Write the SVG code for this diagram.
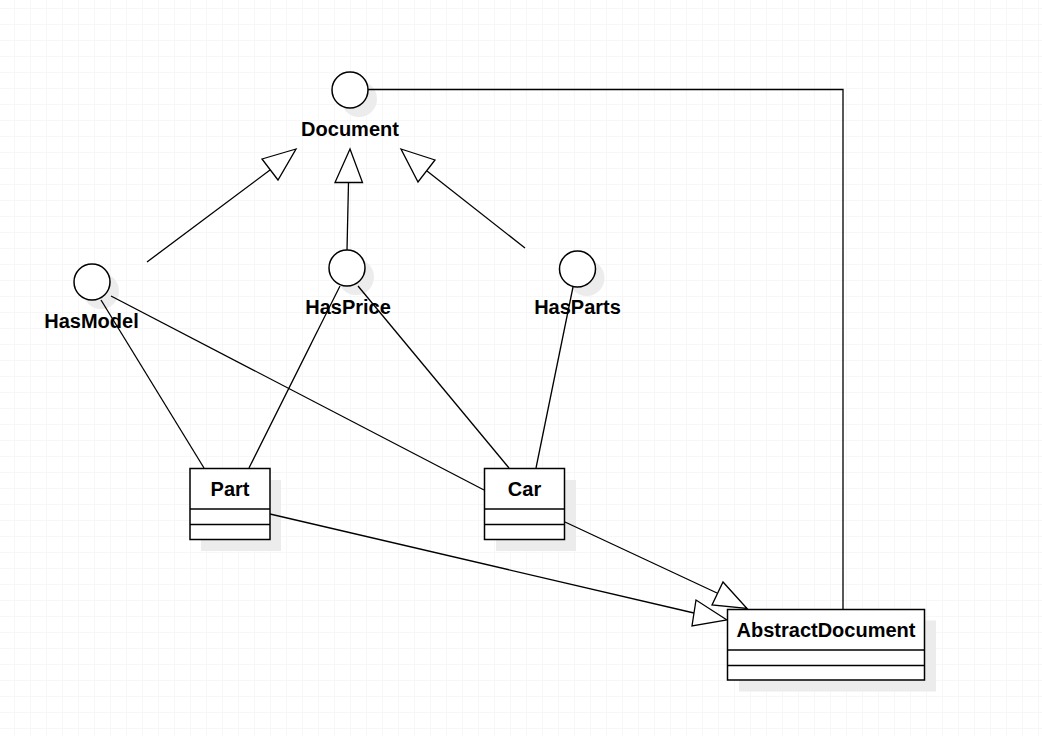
<svg xmlns="http://www.w3.org/2000/svg" width="1042" height="736" viewBox="0 0 1042 736">
  <defs>
    <pattern id="grid" x="14" y="8" width="16" height="16" patternUnits="userSpaceOnUse">
      <path d="M0 0 H16 M0 0 V16" fill="none" stroke="#efefef" stroke-width="1"/>
    </pattern>
    <style>
      .ln { fill: none; stroke: #000; stroke-width: 1.3; }
      .tri { fill: #fff; stroke: #000; stroke-width: 1.3; stroke-linejoin: miter; }
      .iface { fill: #fff; stroke: #000; stroke-width: 1.5; }
      .shadow { fill: #ececec; stroke: none; }
      .box { fill: #fff; stroke: #000; stroke-width: 1.5; }
      .lbl { font-family: "Liberation Sans", Arial, sans-serif; font-weight: bold; font-size: 20px; fill: #000; text-anchor: middle; }
    </style>
  </defs>

  <rect width="1042" height="736" fill="#fff"/>
  <rect width="1042" height="736" fill="url(#grid)"/>

  <!-- drop shadows sit beneath everything -->
  <g id="shadows">
    <circle class="shadow" cx="359" cy="99" r="18"/>
    <circle class="shadow" cx="101" cy="291" r="18"/>
    <circle class="shadow" cx="356" cy="277" r="18"/>
    <circle class="shadow" cx="586.5" cy="278" r="18"/>
    <rect class="shadow" x="201" y="480" width="80" height="71"/>
    <rect class="shadow" x="496" y="480" width="80" height="71"/>
    <rect class="shadow" x="739" y="620.5" width="197" height="71"/>
  </g>

  <!-- connectors -->
  <g id="connectors">
    <!-- realization: interfaces extend Document -->
    <line class="ln" x1="147" y1="262" x2="270" y2="170"/>
    <polygon class="tri" points="296,149 262,159 278,180"/>
    <line class="ln" x1="347" y1="250" x2="348.5" y2="182.5"/>
    <polygon class="tri" points="350,149 335,182.5 362.5,182.5"/>
    <line class="ln" x1="525" y1="248" x2="427" y2="171"/>
    <polygon class="tri" points="401,149 435,160 418,182"/>

    <!-- Document to AbstractDocument -->
    <polyline class="ln" points="368,89.5 843,89.5 843,609"/>

    <!-- interface lollipops -->
    <line class="ln" x1="101" y1="300" x2="204" y2="468"/>
    <line class="ln" x1="111" y1="296" x2="484" y2="490"/>
    <line class="ln" x1="340" y1="286" x2="249" y2="468"/>
    <line class="ln" x1="358" y1="286" x2="509" y2="468"/>
    <line class="ln" x1="573" y1="287" x2="536" y2="468"/>

    <!-- generalization to AbstractDocument -->
    <line class="ln" x1="270" y1="514" x2="694" y2="613"/>
    <polygon class="tri" points="727,620 696,600 692,626"/>
    <line class="ln" x1="565" y1="522" x2="717" y2="593"/>
    <polygon class="tri" points="747,608.5 723,582 712,605"/>
  </g>

  <!-- interfaces -->
  <g id="Document">
    <circle class="iface" cx="350" cy="90" r="18"/>
    <text class="lbl" x="350" y="136">Document</text>
  </g>
  <g id="HasModel">
    <circle class="iface" cx="92" cy="282" r="18"/>
    <text class="lbl" x="91.5" y="328">HasModel</text>
  </g>
  <g id="HasPrice">
    <circle class="iface" cx="347" cy="268" r="18"/>
    <text class="lbl" x="348" y="314">HasPrice</text>
  </g>
  <g id="HasParts">
    <circle class="iface" cx="577.5" cy="269" r="18"/>
    <text class="lbl" x="577.5" y="314">HasParts</text>
  </g>

  <!-- classes -->
  <g id="Part">
    <rect class="box" x="190" y="468.5" width="80" height="71"/>
    <line class="ln" x1="190" y1="509" x2="270" y2="509"/>
    <line class="ln" x1="190" y1="524.5" x2="270" y2="524.5"/>
    <text class="lbl" x="230" y="496">Part</text>
  </g>
  <g id="Car">
    <rect class="box" x="484.5" y="468.5" width="80" height="71"/>
    <line class="ln" x1="484.5" y1="509" x2="564.5" y2="509"/>
    <line class="ln" x1="484.5" y1="524.5" x2="564.5" y2="524.5"/>
    <text class="lbl" x="524.5" y="496">Car</text>
  </g>
  <g id="AbstractDocument">
    <rect class="box" x="727.5" y="609.5" width="197" height="70.5"/>
    <line class="ln" x1="727.5" y1="650" x2="924.5" y2="650"/>
    <line class="ln" x1="727.5" y1="665.5" x2="924.5" y2="665.5"/>
    <text class="lbl" x="826" y="637">AbstractDocument</text>
  </g>
</svg>
